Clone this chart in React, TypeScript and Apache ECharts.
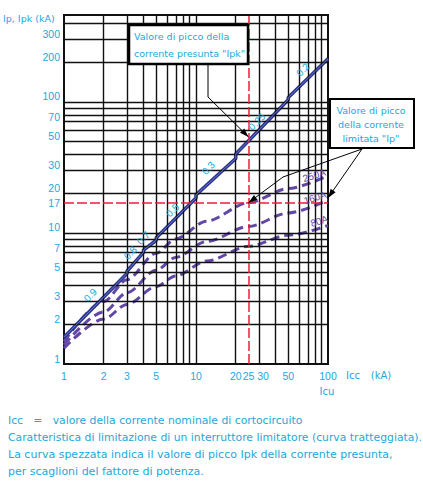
import React, { useEffect, useRef } from "react";
import * as echarts from "echarts";

// ---- data (kA) ----
const xTicks = [1, 2, 3, 5, 10, 20, 25, 30, 50, 100];
const yTicks = [1, 2, 3, 5, 7, 10, 17, 20, 30, 50, 70, 100, 200, 300];
const xGrid = [2, 3, 4, 5, 6, 7, 8, 9, 10, 20, 30, 40, 50, 60, 70, 80, 90];
const yGrid = [2, 3, 4, 5, 6, 7, 8, 9, 10, 20, 30, 40, 50, 60, 70, 80, 90, 100, 200, 300, 400];
const xMin = 1;
const xMax = 100;
const yMin = 1;
const yMax = 460;
const icuRef = 25;
const ipRef = 17;

// prospective peak current Ipk (broken line, by power factor bands)
const ipk: [number, number][] = [
  [1, 1.6], [3, 4.9], [3, 5.1], [4, 7.1], [4, 7.4], [5, 8.8], [5, 9.2],
  [10, 18.5], [10, 19.5], [20, 37], [20, 40], [50, 104], [50, 108], [100, 213],
];
// limited peak current Ip (dashed)
const ip250: [number, number][] = [[1, 1.48], [2, 3.0], [3, 4.4], [5, 7.0], [7, 9.0], [12, 12.3], [25, 17], [50, 21.8], [100, 27.4]];
const ip160: [number, number][] = [[1, 1.4], [2, 2.5], [3, 3.5], [5, 5.2], [7, 6.5], [12, 8.6], [25, 11.2], [50, 14.2], [100, 17.8]];
const ip80: [number, number][] = [[1, 1.32], [2, 2.2], [3, 2.85], [5, 3.9], [7, 4.7], [12, 6.1], [25, 7.9], [50, 9.6], [100, 11.4]];

const pfNames = ["0.9", "0.8", "0.7", "0.5", "0.3", "0.25", "0.2"];
const pfAnchors: [number, number][] = [[1.58, 3.36], [3.18, 7.04], [3.99, 9.15], [6.63, 14.9], [12.4, 31.3], [28.9, 70.6], [64.5, 176]];
const ratingNames = ["250A", "160A", "80A"];
const ratingAnchors: [number, number][] = [[78.5, 27.5], [79.7, 18.6], [85.6, 12.3]];

const box1Lines = ["Valore di picco della", "corrente presunta \"Ipk\""];
const box2Lines = ["Valore di picco", "della corrente", "limitata \"Ip\""];
const noteLines = [
  "Icc   =   valore della corrente nominale di cortocircuito",
  "Caratteristica di limitazione di un interruttore limitatore (curva tratteggiata).",
  "La curva spezzata indica il valore di picco Ipk della corrente presunta,",
  "per scaglioni del fattore di potenza.",
];
const noteSizes = [10.8, 10.8, 11, 11];

const CYAN = "#22a8dc";
const NAVY = "#2b3590";
const PURPLE = "#6247a6";
const RED = "#ee1c3c";
const FONT = '"Liberation Sans", Arial, sans-serif';
const WIDE = '"DejaVu Sans", sans-serif';

const L = Math.log10;
const toLog = (pts: [number, number][]) => pts.map(([x, y]) => [L(x), L(y)]);
const val = (v: number) => Math.round(Math.pow(10, v));

export default function App() {
  const ref = useRef<HTMLDivElement>(null);
  useEffect(() => {
    if (!ref.current) return;
    const chart = echarts.init(ref.current, undefined, { renderer: "svg" });
    const gridLineStyle = { color: "#111", width: 1.4, type: "solid" as const };
    const lab = { color: CYAN, fontSize: 10.5, fontFamily: FONT };
    const redStyle = { color: RED, width: 1.5, type: [10, 3], opacity: 1 };
    const option: any = {
      animation: false,
      grid: { left: 64, top: 15, width: 264, height: 349, show: true, borderColor: "#111", borderWidth: 2, backgroundColor: "transparent" },
      xAxis: {
        type: "value", min: L(xMin), max: L(xMax),
        axisLine: { show: false }, axisTick: { show: false }, splitLine: { show: false },
        axisLabel: {
          customValues: xTicks.map(L), margin: 6, ...lab,
          formatter: (v: number) => { const n = val(v); return n === 30 ? `{s|${n}}` : `${n}`; },
          rich: { s: { ...lab, padding: [0, 0, 0, 8] } },
        },
      },
      yAxis: {
        type: "value", min: L(yMin), max: L(yMax),
        axisLine: { show: false }, axisTick: { show: false }, splitLine: { show: false },
        axisLabel: {
          customValues: yTicks.map(L), margin: 4, verticalAlign: "middle", ...lab,
          formatter: (v: number) => { const n = val(v); return n === ipRef ? `{m|${n}}` : `{u|${n}}`; },
          rich: { u: { ...lab, padding: [0, 0, 11, 0] }, m: { ...lab } },
        },
      },
      series: [
        {
          type: "line", data: [], silent: true, z: 1,
          markLine: {
            silent: true, symbol: "none", label: { show: false }, lineStyle: gridLineStyle, animation: false,
            data: [...xGrid.map((v) => ({ xAxis: L(v) })), ...yGrid.map((v) => ({ yAxis: L(v) }))],
          },
        },
        {
          type: "line", data: [], silent: true, z: 2, itemStyle: { color: RED }, color: RED,
          markLine: {
            silent: true, symbol: "none", label: { show: false }, animation: false,
            itemStyle: { color: RED },
            lineStyle: redStyle,
            data: [
              { xAxis: L(icuRef), lineStyle: redStyle },
              { yAxis: L(ipRef), lineStyle: redStyle },
            ],
          },
        },
        ...[ip250, ip160, ip80].map((d) => ({
          type: "line", data: toLog(d), showSymbol: false, symbol: "none", smooth: 0.3, smoothMonotone: "x", z: 3,
          lineStyle: { color: PURPLE, width: 3, type: [9, 5] },
        })),
        {
          type: "line", data: toLog(ipk), showSymbol: false, symbol: "none", z: 4,
          lineStyle: { color: NAVY, width: 3.6 },
        },
        {
          type: "line", data: toLog(ipk), showSymbol: false, symbol: "none", z: 5,
          lineStyle: { color: "#6f7cc9", width: 0.9 },
        },
      ],
    };
    chart.setOption(option);

    const px = (x: number, y: number): [number, number] =>
      chart.convertToPixel({ gridIndex: 0 }, [L(x), L(y)]) as [number, number];

    const arrowHead = (from: [number, number], to: [number, number]) => {
      const dx = to[0] - from[0];
      const dy = to[1] - from[1];
      const len = Math.hypot(dx, dy) || 1;
      const ux = dx / len, uy = dy / len;
      const hl = 9, hw = 3;
      const bx = to[0] - ux * hl, by = to[1] - uy * hl;
      return {
        type: "polygon", z: 101,
        shape: { points: [to, [bx - uy * hw, by + ux * hw], [bx + uy * hw, by - ux * hw]] },
        style: { fill: "#000" },
      };
    };
    const txt = (text: string, x: number, y: number, opts: any = {}) => ({
      type: "text", x, y, rotation: opts.rotation || 0, z: opts.z || 102,
      style: {
        text, fill: opts.fill || CYAN, fontSize: opts.fontSize || 10.5, fontFamily: opts.fontFamily || FONT,
        align: opts.align || "left", verticalAlign: "middle",
        textAlign: opts.align || "left", textVerticalAlign: "middle",
      },
    });

    const tip1 = px(25, 54);
    const tipA = px(icuRef, ipRef);
    const tipB = px(100, 18.5);
    const b1a: [number, number] = [208, 64];
    const b1b: [number, number] = [208, 97];
    const b2a: [number, number] = [362, 149];
    const b2b: [number, number] = [283, 177];

    const graphic: any[] = [];
    pfNames.forEach((n, i) => {
      const p = px(pfAnchors[i][0], pfAnchors[i][1]);
      graphic.push(txt(n, p[0], p[1], { rotation: 0.8, align: "center", fontSize: 10, z: 50 }));
    });
    ratingNames.forEach((n, i) => {
      const p = px(ratingAnchors[i][0], ratingAnchors[i][1]);
      graphic.push(txt(n, p[0], p[1], { rotation: 0.3, align: "center", fontSize: 10, fill: PURPLE, z: 50 }));
    });
    // leaders
    graphic.push({ type: "polyline", z: 100, shape: { points: [b1a, b1b, tip1] }, style: { stroke: "#000", lineWidth: 1, fill: null } });
    graphic.push(arrowHead(b1b, tip1));
    graphic.push({ type: "polyline", z: 100, shape: { points: [b2a, b2b, tipA] }, style: { stroke: "#000", lineWidth: 1, fill: null } });
    graphic.push(arrowHead(b2b, tipA));
    graphic.push({ type: "polyline", z: 100, shape: { points: [b2a, tipB] }, style: { stroke: "#000", lineWidth: 1, fill: null } });
    graphic.push(arrowHead(b2a, tipB));
    // boxes
    graphic.push({ type: "rect", z: 101, shape: { x: 129, y: 25, width: 119, height: 39 }, style: { fill: "#fff", stroke: "#000", lineWidth: 2.5 } });
    box1Lines.forEach((t, i) => graphic.push(txt(t, 134, 36 + i * 17, { fontFamily: WIDE, fontSize: 9.5 })));
    graphic.push({ type: "rect", z: 101, shape: { x: 330, y: 99, width: 84, height: 49 }, style: { fill: "#fff", stroke: "#000", lineWidth: 2 } });
    box2Lines.forEach((t, i) => graphic.push(txt(t, 371, 110 + i * 14, { align: "center", fontFamily: WIDE, fontSize: 9.5 })));
    // axis titles
    graphic.push(txt("Ip, Ipk (kA)", 3, 18, { fontFamily: WIDE, fontSize: 9.5 }));
    graphic.push(txt("Icc", 353, 375, { align: "center", fontFamily: WIDE, fontSize: 10 }));
    graphic.push(txt("(kA)", 381, 375, { align: "center", fontFamily: WIDE, fontSize: 10 }));
    graphic.push(txt("Icu", 327, 391, { align: "center", fontFamily: WIDE, fontSize: 10 }));
    // notes
    noteLines.forEach((t, i) => graphic.push(txt(t, 8, 420 + i * 17, { fontSize: noteSizes[i], fontFamily: WIDE })));

    chart.setOption({ graphic });
    return () => chart.dispose();
  }, []);
  return <div ref={ref} style={{ position: "absolute", left: 0, top: 0, width: 423, height: 493, background: "#fff" }} />;
}
